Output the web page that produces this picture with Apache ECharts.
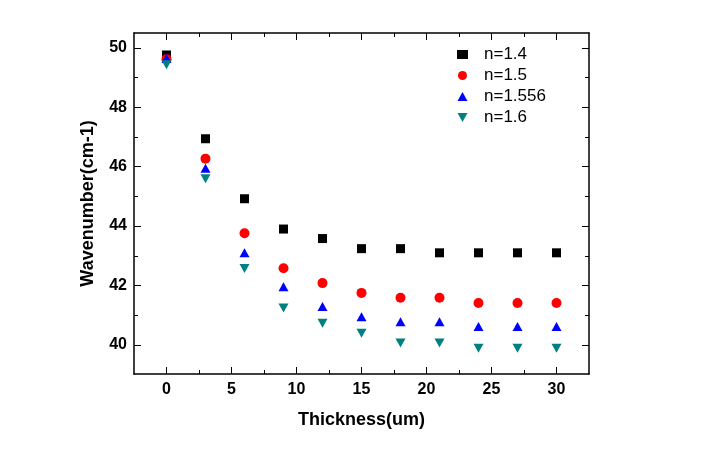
<!DOCTYPE html>
<html><head><meta charset="utf-8">
<script src="https://cdn.jsdelivr.net/npm/echarts@6/dist/echarts.min.js"></script>
<style>html,body{margin:0;padding:0;background:#fff}#c{width:701px;height:460px}</style>
</head><body><div id="c"></div>
<script>
var thickness = [0, 3, 6, 9, 12, 15, 18, 21, 24, 27, 30];
var n14 = [49.76, 46.94, 44.92, 43.90, 43.58, 43.24, 43.24, 43.10, 43.10, 43.10, 43.10];
var n15 = [49.62, 46.27, 43.76, 42.58, 42.08, 41.75, 41.59, 41.59, 41.41, 41.41, 41.41];
var n1556 = [49.64, 45.95, 43.10, 41.96, 41.29, 40.95, 40.78, 40.78, 40.62, 40.62, 40.62];
var n16 = [49.43, 45.59, 42.57, 41.24, 40.73, 40.39, 40.06, 40.06, 39.89, 39.89, 39.89];
var xMajor = [0, 5, 10, 15, 20, 25, 30];
var xMinor = [2.5, 7.5, 12.5, 17.5, 22.5, 27.5];
var yMajor = [40, 42, 44, 46, 48, 50];
var yMinor = [41, 43, 45, 47, 49];
var seriesNames = ['n=1.4', 'n=1.5', 'n=1.556', 'n=1.6'];

function pairs(v){ return thickness.map(function(t,i){return [t, v[i]];}); }

var FONT = 'Liberation Sans, Arial, sans-serif';
var XMIN = -2.5, XMAX = 32.5, YMIN = 39.02, YMAX = 50.5;
var DOWN = 'path://M0,0 L10,0 L5,9 Z';
var UP = 'path://M5,0 L10,9 L0,9 Z';

function xAx(pos, ticks, len, labels, line){
  return {type:'value', position:pos, min:XMIN, max:XMAX,
    axisLine:{show:line, onZero:false, lineStyle:{color:'#000', width:1.5}},
    axisTick:{show:true, inside:true, length:len, customValues:ticks, lineStyle:{color:'#000', width:1}},
    axisLabel:{show:labels, customValues:xMajor, margin:8, color:'#000', fontFamily:FONT, fontWeight:'bold', fontSize:16},
    splitLine:{show:false}};
}
function yAx(pos, ticks, len, labels, line){
  return {type:'value', position:pos, min:YMIN, max:YMAX,
    axisLine:{show:line, onZero:false, lineStyle:{color:'#000', width:1.5}},
    axisTick:{show:true, inside:true, length:len, customValues:ticks, lineStyle:{color:'#000', width:1}},
    axisLabel:{show:labels, customValues:yMajor, margin:7, color:'#000', fontFamily:FONT, fontWeight:'bold', fontSize:16},
    splitLine:{show:false}};
}

var xAxes = [xAx('bottom', xMajor, 7, true, true), xAx('bottom', xMinor, 4, false, false),
             xAx('top', xMajor, 7, false, true), xAx('top', xMinor, 4, false, false)];
xAxes[0].name = 'Thickness(um)';
xAxes[0].nameLocation = 'middle';
xAxes[0].nameGap = 37;
xAxes[0].nameTextStyle = {color:'#000', fontFamily:FONT, fontWeight:'bold', fontSize:18};
var yAxes = [yAx('left', yMajor, 7, true, true), yAx('left', yMinor, 4, false, false),
             yAx('right', yMajor, 7, false, true), yAx('right', yMinor, 4, false, false)];
yAxes[0].name = 'Wavenumber(cm-1)';
yAxes[0].nameLocation = 'middle';
yAxes[0].nameGap = 37;
yAxes[0].nameTextStyle = {color:'#000', fontFamily:FONT, fontWeight:'bold', fontSize:18};

var chart = echarts.init(document.getElementById('c'), null, {renderer:'canvas'});
chart.setOption({
  animation:false,
  backgroundColor:'#fff',
  grid:{left:134, right:112, top:33, bottom:86, containLabel:false},
  xAxis: xAxes,
  yAxis: yAxes,
  legend:{orient:'vertical', left:452, top:41, itemWidth:11, itemHeight:9, itemGap:4,
    textStyle:{color:'#000', fontFamily:FONT, fontSize:17, padding:[0,0,0,11]},
    data:[{name:seriesNames[0], icon:'rect'}, {name:seriesNames[1], icon:'circle'},
          {name:seriesNames[2], icon:UP}, {name:seriesNames[3], icon:DOWN}]},
  series:[
    {name:seriesNames[0], type:'scatter', symbol:'rect', symbolSize:9, itemStyle:{color:'#000', opacity:1}, data:pairs(n14)},
    {name:seriesNames[1], type:'scatter', symbol:'circle', symbolSize:10, itemStyle:{color:'#ff0000', opacity:1}, data:pairs(n15)},
    {name:seriesNames[2], type:'scatter', symbol:UP, symbolSize:[10,9], itemStyle:{color:'#0000ff', opacity:1}, data:pairs(n1556)},
    {name:seriesNames[3], type:'scatter', symbol:DOWN, symbolSize:[10,9], itemStyle:{color:'#008080', opacity:1}, data:pairs(n16)}
  ]
});
</script></body></html>
